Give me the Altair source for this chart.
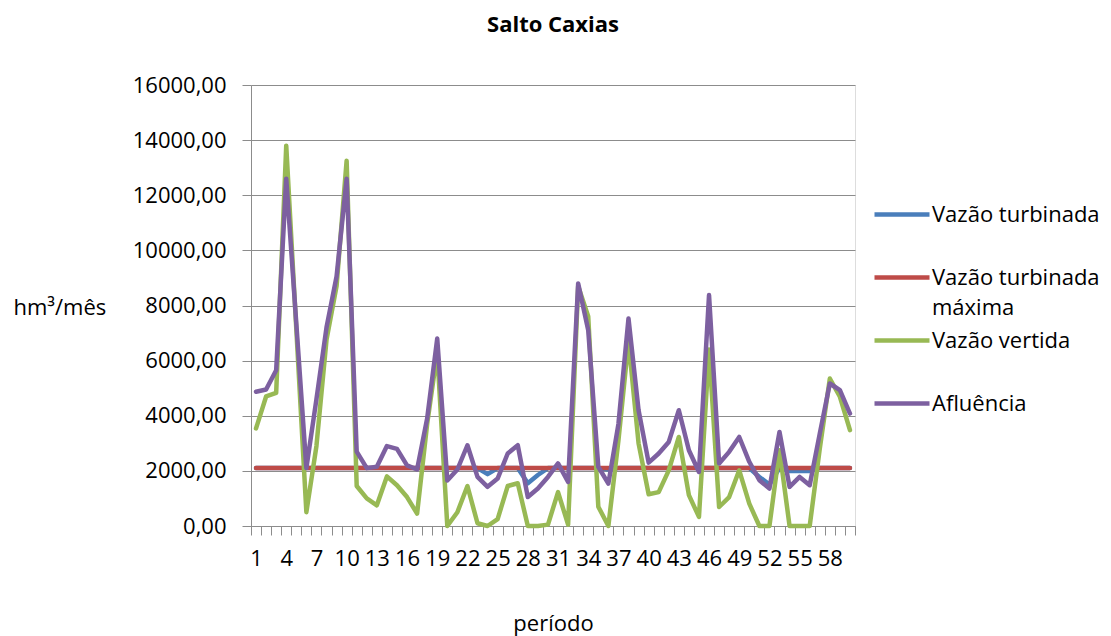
import altair as alt
import pandas as pd

# Monthly volumes (hm³/mês) for the Salto Caxias plant, 60 periods
periodo = list(range(1, 61))

vazao_turbinada = [
    2100, 2100, 2100, 2100, 2100, 2100, 2100, 2100, 2100, 2100,
    2100, 2100, 2100, 2100, 2100, 2100, 2100, 2100, 2100, 2100,
    2100, 2100, 2100, 1880, 2100, 2100, 2100, 1550, 1850, 2100,
    2100, 2100, 2100, 2100, 2100, 2050, 2100, 2100, 2100, 2100,
    2100, 2100, 2100, 2100, 2100, 2100, 2100, 2100, 2100, 2100,
    1780, 1500, 2100, 2000, 2000, 2000, 2100, 2100, 2100, 2100,
]

vazao_turbinada_maxima = [2100] * 60

vazao_vertida = [
    3540, 4700, 4830, 13800, 7150, 500, 2900, 6750, 8700, 13250,
    1450, 1000, 750, 1800, 1480, 1050, 450, 3700, 6300, 0,
    500, 1450, 100, 0, 250, 1450, 1550, 0, 0, 50,
    1230, 50, 8700, 7600, 700, 0, 3100, 6700, 3000, 1150,
    1230, 2020, 3230, 1120, 330, 6400, 690, 1050, 2020, 810,
    0, 0, 2750, 0, 0, 0, 2800, 5350, 4690, 3480,
]

afluencia = [
    4870, 4950, 5650, 12600, 7350, 2100, 4600, 7200, 9050, 12600,
    2700, 2100, 2150, 2900, 2800, 2200, 2050, 3900, 6800, 1650,
    2050, 2930, 1780, 1420, 1720, 2630, 2930, 1050, 1360, 1780,
    2270, 1600, 8800, 7100, 2150, 1540, 3700, 7530, 4200, 2300,
    2630, 3050, 4200, 2750, 1960, 8380, 2270, 2690, 3230, 2330,
    1660, 1360, 3410, 1420, 1780, 1480, 3350, 5170, 4930, 4080,
]

series_names = ["Vazão turbinada", "Vazão turbinada máxima", "Vazão vertida", "Afluência"]
series_colors = ["#4A7EBB", "#BE4B48", "#98B954", "#7D60A0"]
series_values = [vazao_turbinada, vazao_turbinada_maxima, vazao_vertida, afluencia]

rows = []
for name, vals in zip(series_names, series_values):
    for p, v in zip(periodo, vals):
        rows.append({"periodo": p, "valor": v, "serie": name})
df = pd.DataFrame(rows)

FONT = "Open Sans"
GRAY = "#8C8C8C"

x_enc = alt.X(
    "periodo:Q",
    scale=alt.Scale(domain=[0.5, 60.5], nice=False, zero=False),
    axis=alt.Axis(
        values=[i + 0.5 for i in range(0, 61)],
        labelExpr="(datum.value - 0.5) % 3 == 0 && datum.value < 60 ? format(datum.value + 0.5, 'd') : ''",
        labelOffset=5.03,
        labelOverlap=False,
        labelFlush=False,
        labelPadding=13,
        labelFontSize=22,
        labelFont=FONT,
        labelColor="#000000",
        tickSize=9,
        tickColor=GRAY,
        tickWidth=1,
        domainColor=GRAY,
        domainWidth=1,
        grid=False,
        title="período",
        titleFont=FONT,
        titleFontSize=22,
        titleFontWeight="normal",
        titleColor="#000000",
        titleY=97,
        titleBaseline="middle",
    ),
)

y_enc = alt.Y(
    "valor:Q",
    scale=alt.Scale(domain=[0, 16000], nice=False),
    axis=alt.Axis(
        values=list(range(0, 16001, 2000)),
        labelExpr="replace(format(datum.value, '.2f'), '.', ',')",
        labelFontSize=22,
        labelFont=FONT,
        labelColor="#000000",
        labelPadding=16,
        tickSize=9,
        tickColor=GRAY,
        domainColor=GRAY,
        grid=True,
        gridColor=GRAY,
        gridWidth=1,
        title="hm³/mês",
        titleFont=FONT,
        titleFontSize=22,
        titleFontWeight="normal",
        titleColor="#000000",
        titleAngle=0,
        titleAlign="left",
        titleBaseline="middle",
        titleX=-238,
        titleY=222,
    ),
)


def color_encoding(names, colors, legend_y):
    return alt.Color(
        "serie:N",
        scale=alt.Scale(domain=names, range=colors),
        legend=alt.Legend(
            title=None,
            orient="none",
            legendX=621,
            legendY=legend_y,
            symbolType="stroke",
            symbolSize=3025,
            symbolStrokeWidth=4.5,
            labelFont=FONT,
            labelFontSize=22,
            labelColor="#000000",
            labelOffset=0,
            labelLimit=300,
            labelExpr="datum.label == 'Vazão turbinada máxima' ? ['Vazão turbinada', 'máxima'] : datum.label",
            clipHeight=63,
            rowPadding=0,
            padding=0,
        ),
    )


base = alt.Chart(df).mark_line(strokeWidth=4.5, strokeJoin="round", strokeCap="round")


def series_group(idx, legend_y):
    names = [series_names[i] for i in idx]
    colors = [series_colors[i] for i in idx]
    enc = color_encoding(names, colors, legend_y)
    return alt.layer(
        *[
            base.transform_filter(alt.datum.serie == n).encode(x=x_enc, y=y_enc, color=enc)
            for n in names
        ]
    )


# turbinada pair first (drawn underneath), then vertida and afluência on top
group_turbinada = series_group([0, 1], 98)
group_outros = series_group([2, 3], 224)

chart = (
    alt.layer(group_turbinada, group_outros)
    .resolve_scale(color="independent")
    .properties(
        width=604,
        height=441,
        autosize=alt.AutoSizeParams(type="none"),
        padding={"left": 251, "top": 85, "right": 256, "bottom": 110},
        title=alt.TitleParams(
            "Salto Caxias",
            font=FONT,
            fontSize=22,
            fontWeight="bold",
            color="#000000",
            anchor="middle",
            frame="group",
            baseline="middle",
            offset=27,
        ),
    )
    .configure_view(stroke=None)
    .configure(background="white", style={"guide-label": {"lineHeight": 30}})
)

chart.save("out.html", embed_options={"renderer": "svg", "actions": False})
